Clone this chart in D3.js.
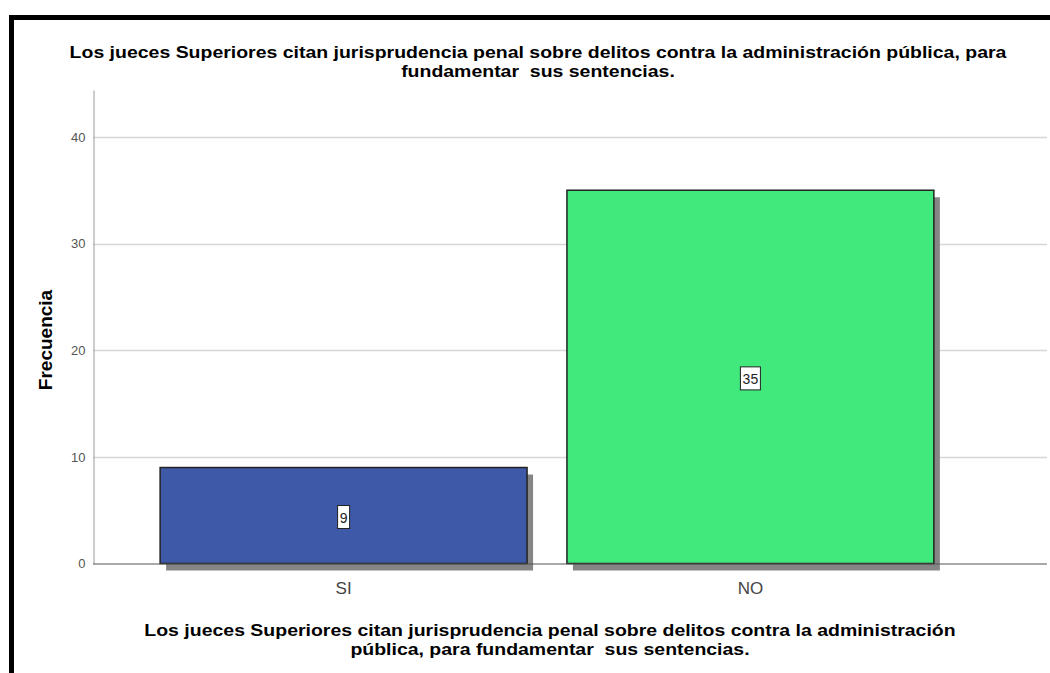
<!DOCTYPE html>
<html>
<head>
<meta charset="utf-8">
<script src="https://cdn.jsdelivr.net/npm/d3@7"></script>
<style>
  body { margin: 0; background: #fff; }
  text { font-family: "Liberation Sans", Arial, sans-serif; white-space: pre; }
</style>
</head>
<body>
<svg id="chart" width="1050" height="673"></svg>
<script>
// data
var categories = ["SI", "NO"];
var frequencies = [9, 35];
var barColors = ["#3d59a8", "#41e97d"];
var yTicks = [0, 10, 20, 30, 40];
var titleLines = ["Los jueces Superiores citan jurisprudencia penal sobre delitos contra la administración pública, para",
	"fundamentar  sus sentencias."];
var xTitleLines = ["Los jueces Superiores citan jurisprudencia penal sobre delitos contra la administración",
	"pública, para fundamentar  sus sentencias."];

var svg = d3.select("#chart");

// frame
svg.append("path")
	.attr("d", "M11.5,673 L11.5,17.5 L1050,17.5")
	.attr("fill", "none")
	.attr("stroke", "#000")
	.attr("stroke-width", 5);

var y = d3.scaleLinear()
	.domain([0, 44.4])
	.range([563.5, 90]);

var x = d3.scaleBand()
	.domain(categories)
	.range([93, 1001])
	.paddingInner(0.098)
	.paddingOuter(0.165);

// gridlines
svg.selectAll("line.grid")
	.data(yTicks.filter(function(d) { return d > 0; }))
	.enter()
	.append("line")
	.attr("class", "grid")
	.attr("x1", 93)
	.attr("x2", 1047)
	.attr("y1", function(d) { return Math.round(y(d)) + 0.5; })
	.attr("y2", function(d) { return Math.round(y(d)) + 0.5; })
	.attr("stroke", "#d6d6d6")
	.attr("stroke-width", 1.5);

// y axis
var yAxis = svg.append("g")
	.attr("transform", "translate(93.5,0)")
	.call(d3.axisLeft(y).tickValues(yTicks).tickSize(0).tickPadding(8));
yAxis.select(".domain").attr("stroke", "#9a9a9a");
yAxis.selectAll("text")
	.attr("fill", "#555")
	.style("font-size", "13px");

// shadows
svg.selectAll("rect.shadow")
	.data(frequencies)
	.enter()
	.append("rect")
	.attr("class", "shadow")
	.attr("x", function(d, i) { return x(categories[i]) + 6; })
	.attr("y", function(d) { return y(d) + 7; })
	.attr("width", x.bandwidth())
	.attr("height", function(d) { return y(0) - y(d); })
	.attr("fill", "#858585");

// bars
svg.selectAll("rect.bar")
	.data(frequencies)
	.enter()
	.append("rect")
	.attr("class", "bar")
	.attr("x", function(d, i) { return x(categories[i]); })
	.attr("y", function(d) { return y(d); })
	.attr("width", x.bandwidth())
	.attr("height", function(d) { return y(0) - y(d); })
	.attr("fill", function(d, i) { return barColors[i]; })
	.attr("stroke", "#222")
	.attr("stroke-width", 1.5);

// x axis baseline
svg.append("line")
	.attr("x1", 93)
	.attr("x2", 1047)
	.attr("y1", 564)
	.attr("y2", 564)
	.attr("stroke", "#555")
	.attr("stroke-width", 1.2);

// x tick labels
svg.selectAll("text.xlab")
	.data(categories)
	.enter()
	.append("text")
	.attr("class", "xlab")
	.attr("x", function(d) { return x(d) + x.bandwidth() / 2; })
	.attr("y", 594)
	.attr("text-anchor", "middle")
	.attr("fill", "#444")
	.style("font-size", "17px")
	.text(function(d) { return d; });

// value labels
var labels = svg.selectAll("g.vlab")
	.data(frequencies)
	.enter()
	.append("g")
	.attr("class", "vlab")
	.attr("transform", function(d, i)
	{
		return "translate(" + (x(categories[i]) + x.bandwidth() / 2) + "," + ((y(d) + y(0)) / 2 + 2) + ")";
	});
labels.append("rect")
	.attr("x", function(d) { return String(d).length > 1 ? -10 : -6; })
	.attr("y", -12)
	.attr("width", function(d) { return String(d).length > 1 ? 20 : 12; })
	.attr("height", 23)
	.attr("fill", "#fff")
	.attr("stroke", "#222")
	.attr("stroke-width", 1);
labels.append("text")
	.attr("text-anchor", "middle")
	.attr("y", 5)
	.attr("fill", "#222")
	.style("font-size", "14px")
	.text(function(d) { return d; });

// y title
svg.append("text")
	.attr("transform", "translate(52,340) rotate(-90)")
	.attr("text-anchor", "middle")
	.style("font-size", "19px")
	.style("font-weight", "bold")
	.text("Frecuencia");

// titles: a bit wider than the font, like the original render
function stretchText(sel, factor)
{
	sel.each(function()
	{
		var w = this.getComputedTextLength();
		d3.select(this)
			.attr("textLength", w * factor)
			.attr("lengthAdjust", "spacingAndGlyphs");
	});
}

var title = svg.selectAll("text.title")
	.data(titleLines)
	.enter()
	.append("text")
	.attr("class", "title")
	.attr("x", 538)
	.attr("y", function(d, i) { return 58 + i * 18.5; })
	.attr("text-anchor", "middle")
	.style("font-size", "17px")
	.style("font-weight", "bold")
	.text(function(d) { return d; });
stretchText(title, 1.145);

var xTitle = svg.selectAll("text.xtitle")
	.data(xTitleLines)
	.enter()
	.append("text")
	.attr("class", "xtitle")
	.attr("x", 550)
	.attr("y", function(d, i) { return 636 + i * 18.5; })
	.attr("text-anchor", "middle")
	.style("font-size", "17px")
	.style("font-weight", "bold")
	.text(function(d) { return d; });
stretchText(xTitle, 1.145);
</script>
</body>
</html>
